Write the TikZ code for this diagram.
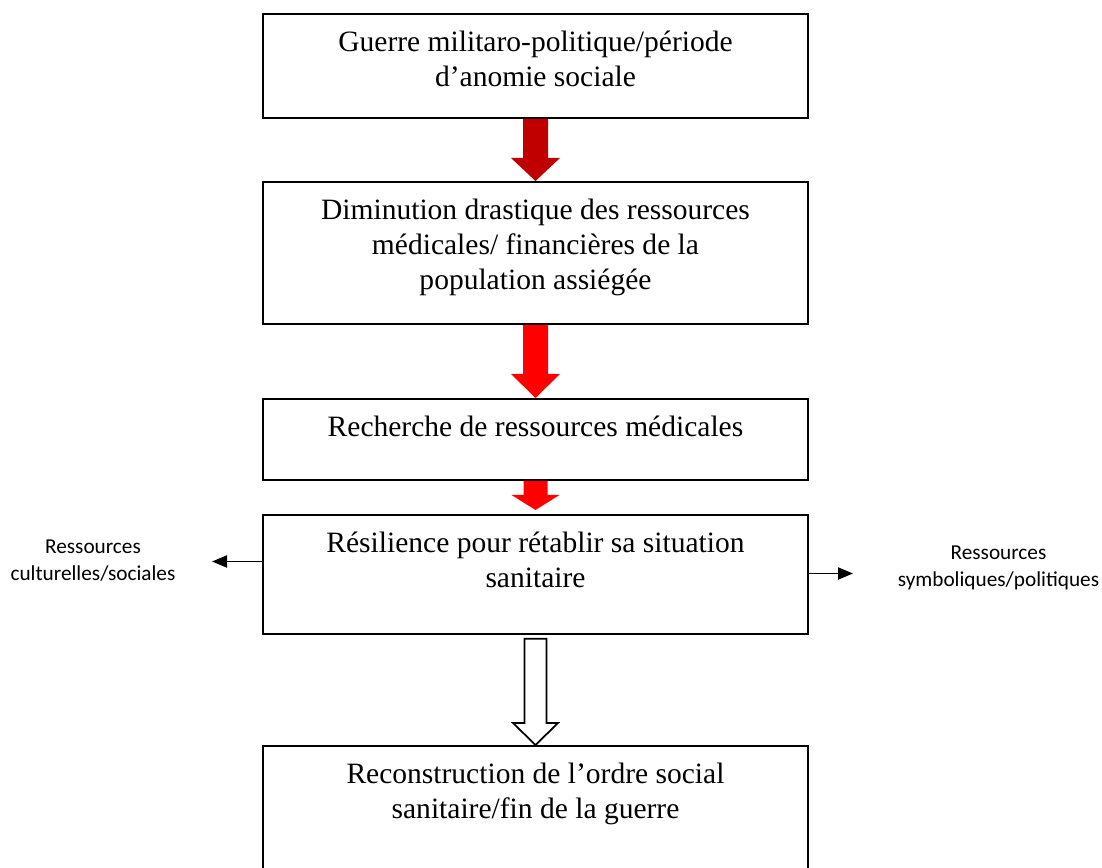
\documentclass[tikz,border=0pt]{standalone}
\usepackage{fontspec}
\setmainfont{Liberation Serif}
\newfontfamily\calibri{Carlito}
\usetikzlibrary{calc,arrows.meta}

\definecolor{rougefonce}{HTML}{C00000}
\definecolor{rougevif}{HTML}{FF0000}

% box content: height, text (top aligned)
\newcommand*{\contenu}[2]{\parbox[c][#1][t]{10.9cm}{\centering\rule{0pt}{0.75cm}#2}}
% block arrow: style, from, to, half shaft, half head, head length
\newcommand*{\grossefleche}[6]{%
	\path[#1] let \p1=(#2.south), \p2=(#3.north) in
		(\x1-#4,\y1) -- (\x1+#4,\y1) -- (\x1+#4,\y2+#6) -- (\x1+#5,\y2+#6)
		-- (\x1,\y2) -- (\x1-#5,\y2+#6) -- (\x1-#4,\y2+#6) -- cycle;}

\begin{document}
\begin{tikzpicture}[
	boite/.style={draw,line width=1pt,inner sep=0pt,anchor=north,font=\fontsize{16.8}{20}\selectfont},
	cote/.style={align=center,font=\calibri\fontsize{12.1}{15.5}\selectfont},
	flechefine/.style={line width=1.1pt,-{Triangle[length=0.3cm,width=0.24cm]}}
]

	\useasboundingbox (0,0) rectangle (22.04,-17.36);

	% boxes
	\node[boite] (guerre) at (10.71,-0.26) {\contenu{2.08cm}{Guerre militaro-politique/période\\d’anomie sociale}};
	\node[boite] (diminution) at (10.71,-3.62) {\contenu{2.84cm}{Diminution drastique des ressources\\médicales/ financières de la\\population assiégée}};
	\node[boite] (recherche) at (10.71,-7.96) {\contenu{1.62cm}{Recherche de ressources médicales}};
	\node[boite] (resilience) at (10.71,-10.28) {\contenu{2.38cm}{Résilience pour rétablir sa situation\\sanitaire}};
	\node[boite] (reconstruction) at (10.71,-14.9) {\contenu{2.8cm}{Reconstruction de l’ordre social\\sanitaire/fin de la guerre}};

	% side resources
	\node[cote] (culturelles) at (1.86,-11.22) {Ressources\\culturelles/sociales};
	\node[cote] (symboliques) at (19.97,-11.36) {Ressources\\symboliques/politiques};

	% block arrows
	\grossefleche{fill=rougefonce}{guerre}{diminution}{0.25cm}{0.49cm}{0.46cm}
	\grossefleche{fill=rougevif}{diminution}{recherche}{0.25cm}{0.49cm}{0.48cm}
	\coordinate (haut4) at ([yshift=0.08cm]resilience.north);
	\grossefleche{fill=rougevif}{recherche}{haut4}{0.24cm}{0.48cm}{0.3cm}
	\coordinate (bas4) at ([yshift=-0.08cm]resilience.south);
	\grossefleche{draw=black,fill=white,line width=1pt}{bas4}{reconstruction}{0.22cm}{0.45cm}{0.44cm}

	% thin arrows
	\coordinate (pointe-g) at (4.24,-11.23);
	\coordinate (pointe-d) at (17.06,-11.47);
	\draw[flechefine] (resilience.west |- pointe-g) -- (pointe-g);
	\draw[flechefine] (resilience.east |- pointe-d) -- (pointe-d);

\end{tikzpicture}
\end{document}
